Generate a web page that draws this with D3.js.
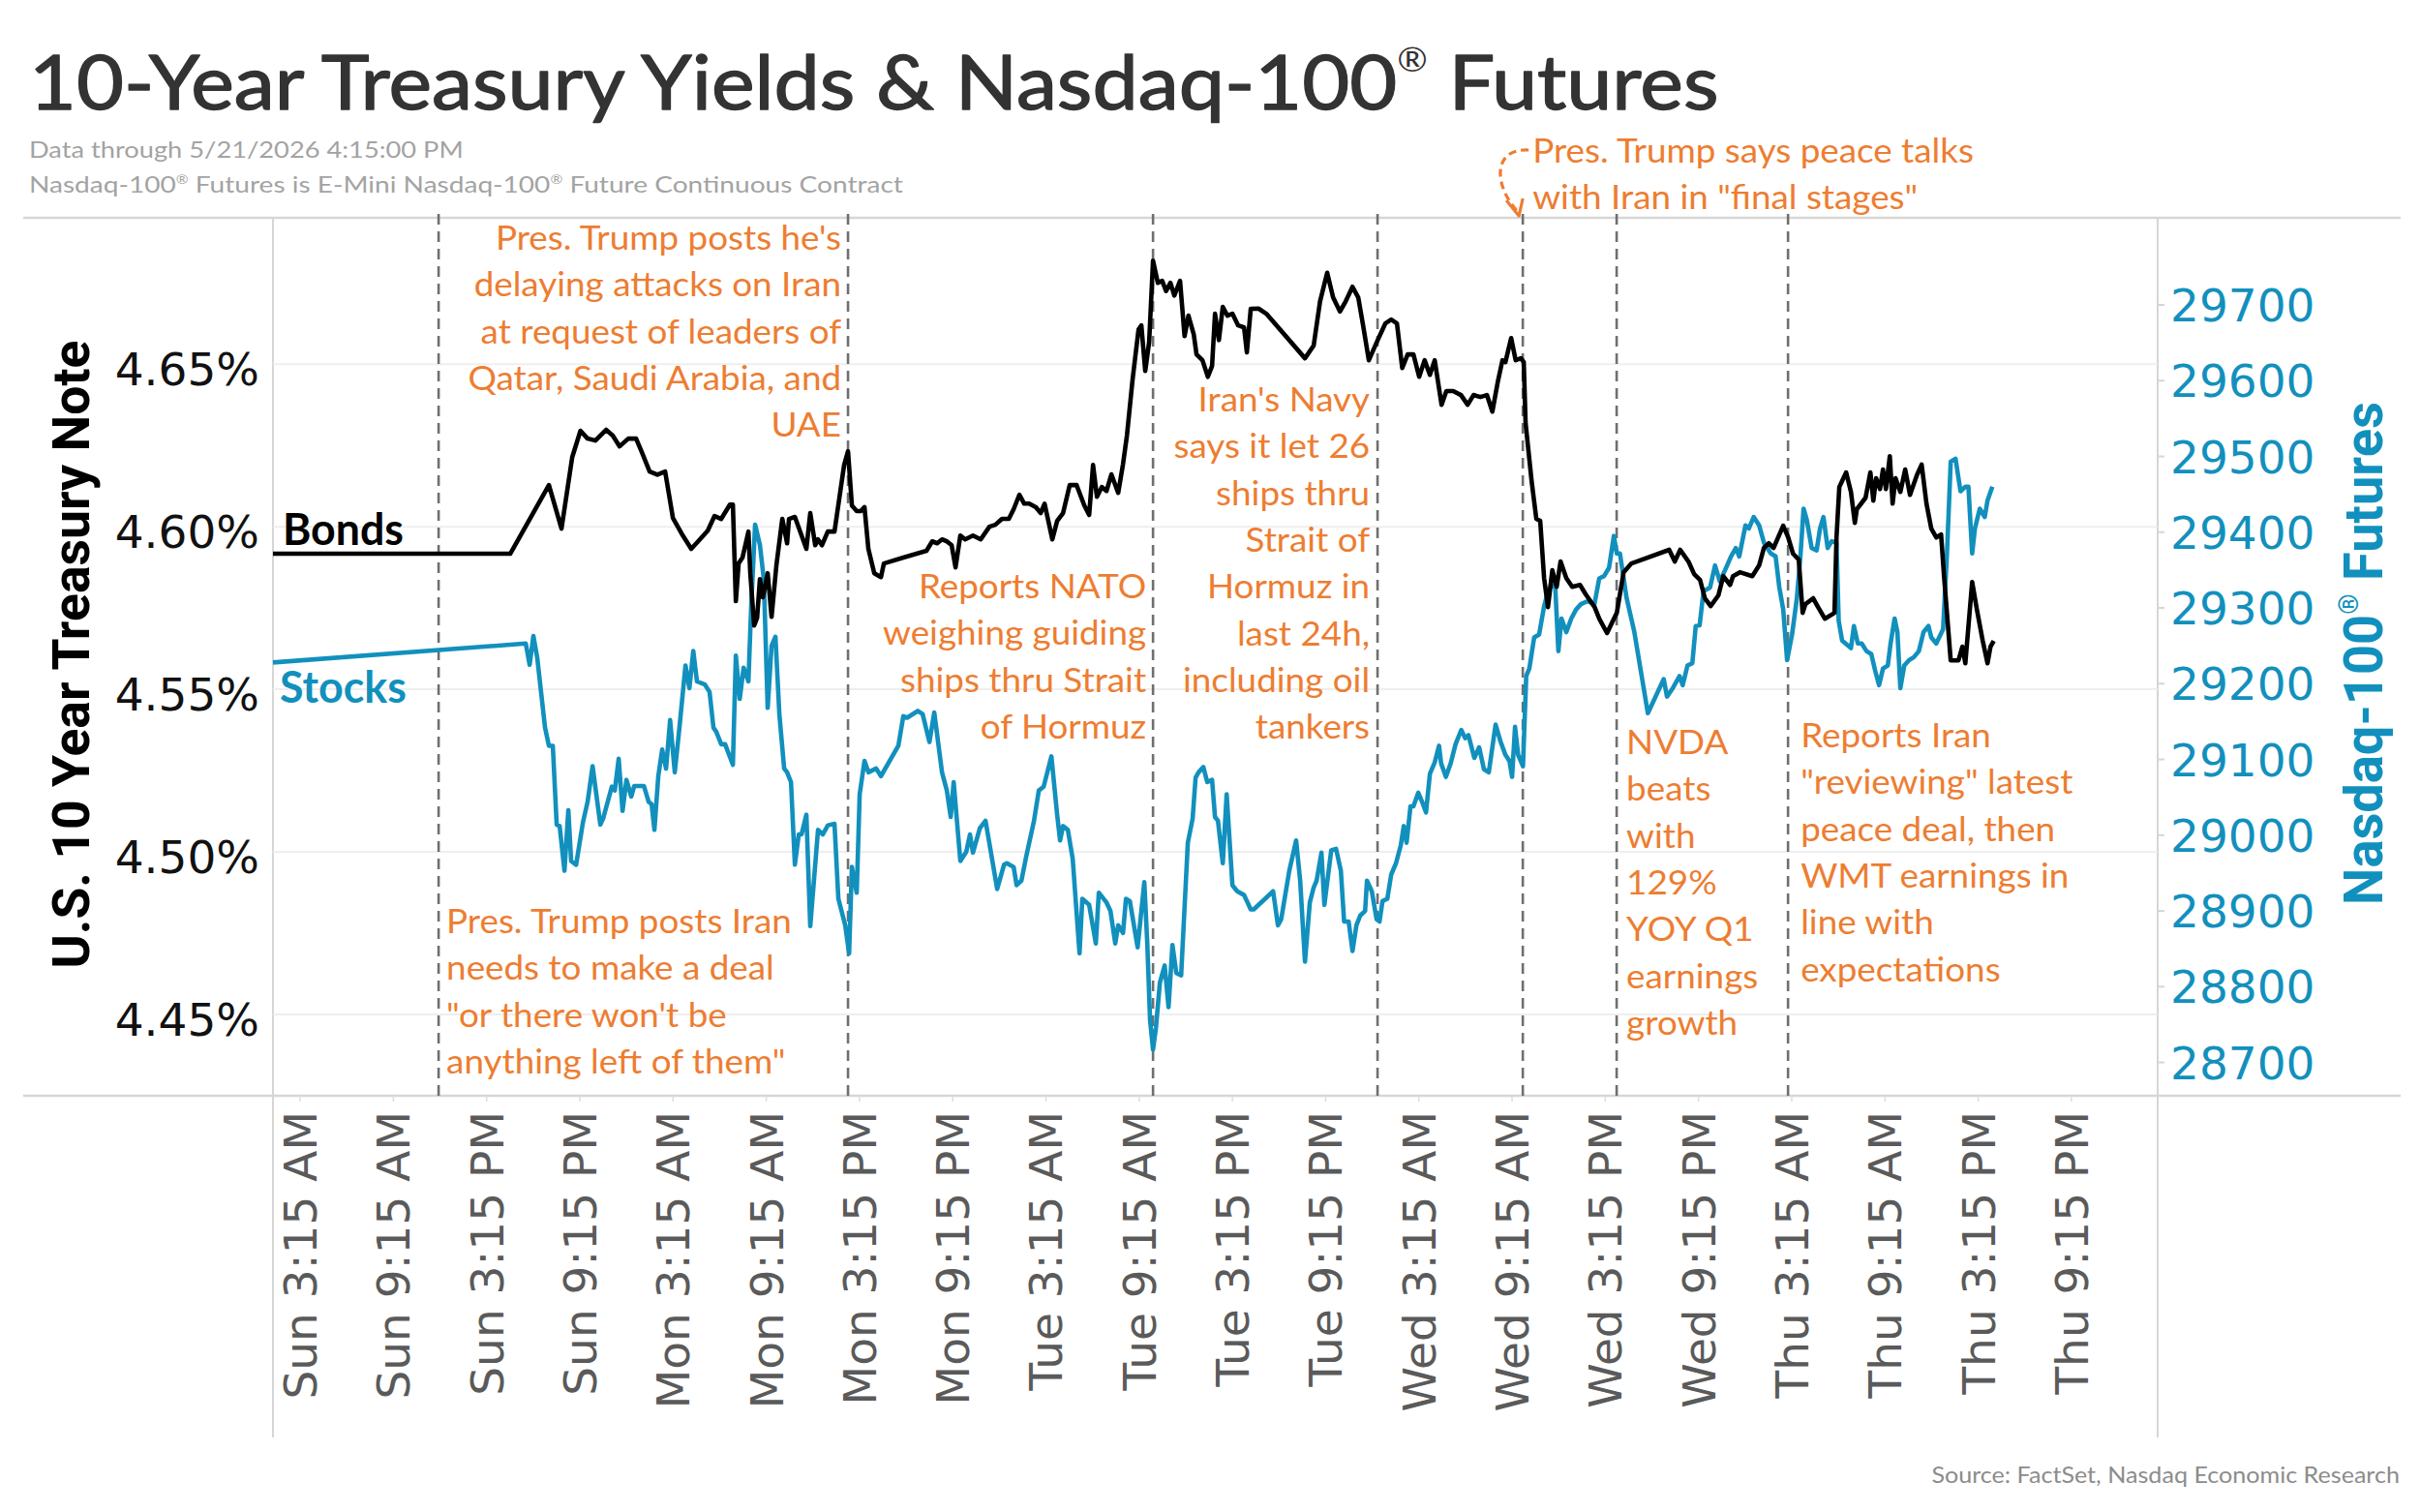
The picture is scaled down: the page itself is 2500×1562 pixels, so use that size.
<!DOCTYPE html>
<html><head><meta charset="utf-8">
<script src="https://cdn.jsdelivr.net/npm/d3@7"></script>
<style>body{margin:0;background:#fff}svg{display:block}</style>
</head><body>
<svg id="c" width="2500" height="1562"></svg>
<script>
// ---------------- DATA ----------------
// hours since Sun 12:00 AM (ET), week ending Thu 5/21/2026
const bondHours = [1.75,17.02,19.51,20.32,21.01,21.54,22.0,22.5,23.19,23.62,24.06,24.62,25.12,25.49,25.99,26.49,26.99,27.49,28.05,28.67,29.17,29.73,30.17,30.6,31.16,31.35,31.54,31.72,31.97,32.35,32.47,32.72,32.91,33.09,33.28,33.59,33.84,34.15,34.53,34.84,34.96,35.34,36.08,36.33,36.65,36.83,37.08,37.46,37.89,38.51,38.76,39.01,39.32,39.57,39.82,40.07,40.45,40.88,41.07,42.32,43.81,44.18,44.5,44.81,45.12,45.43,45.68,45.99,46.3,46.8,47.3,47.86,48.24,48.67,49.11,49.42,49.79,50.1,50.42,50.85,51.16,51.41,51.91,52.22,52.6,53.03,53.47,53.97,54.28,54.53,54.78,55.09,55.4,55.71,56.15,56.46,56.71,57.08,57.46,57.64,57.89,58.14,58.39,58.7,58.98,59.23,59.51,59.76,60.13,60.42,60.67,61.01,61.19,61.57,61.92,62.19,62.38,62.63,62.88,63.18,63.5,63.87,64.25,64.43,64.68,65.18,65.68,68.17,68.73,69.14,69.6,69.98,70.42,70.79,71.23,71.6,71.91,72.28,72.85,73.34,73.72,74.09,74.43,74.78,75.15,75.52,75.87,76.21,76.52,76.96,77.27,77.71,78.21,78.64,79.02,79.46,79.88,80.23,80.57,80.88,81.07,81.44,81.73,82.07,82.25,82.37,82.75,83.06,83.31,83.56,83.81,84.09,84.37,84.62,84.99,85.37,85.87,86.24,86.81,87.11,87.61,88.05,88.24,88.68,89.18,91.61,91.97,92.32,92.85,93.22,93.6,93.91,94.28,94.78,95.09,95.53,95.72,96.16,96.96,97.4,97.71,98.02,98.33,98.95,99.27,99.58,99.95,100.2,100.38,100.88,101.19,101.63,102.25,102.38,102.56,103.0,103.31,103.56,103.69,104.25,104.56,104.75,104.93,105.18,105.37,105.56,105.81,105.99,106.18,106.49,106.8,107.11,107.55,107.86,108.17,108.48,108.8,109.11,109.3,109.73,110.23,110.48,110.67,111.11,111.42,111.79,112.1,112.29,112.5];
const bondYield = [4.5917,4.5917,4.6128,4.5994,4.6214,4.6295,4.6271,4.6265,4.6298,4.628,4.6247,4.6271,4.6271,4.6229,4.617,4.616,4.617,4.6027,4.5979,4.5932,4.5958,4.5988,4.6033,4.6024,4.6068,4.6068,4.5771,4.5887,4.5905,4.5985,4.5857,4.5696,4.572,4.5839,4.5783,4.5857,4.5723,4.5881,4.6024,4.5949,4.6024,4.603,4.5932,4.6042,4.5943,4.5961,4.5943,4.5985,4.5985,4.619,4.6232,4.6065,4.6048,4.6048,4.606,4.5932,4.5857,4.5845,4.5887,4.5905,4.5926,4.5955,4.5949,4.5961,4.5955,4.5943,4.5875,4.5973,4.5961,4.5973,4.5961,4.6,4.6006,4.6024,4.6024,4.6054,4.6098,4.6071,4.6071,4.606,4.6042,4.6071,4.5961,4.6018,4.6042,4.6128,4.6128,4.6065,4.6036,4.619,4.6092,4.6122,4.611,4.6161,4.6104,4.6193,4.628,4.6455,4.6607,4.6619,4.6479,4.6568,4.6818,4.675,4.6756,4.6725,4.675,4.6711,4.6756,4.6586,4.6649,4.6592,4.653,4.6512,4.6461,4.6494,4.6655,4.6574,4.6676,4.6649,4.6655,4.6619,4.6613,4.6536,4.667,4.6671,4.6655,4.6518,4.6557,4.6693,4.6781,4.6705,4.6662,4.6693,4.6738,4.6705,4.6619,4.6512,4.6574,4.6625,4.6637,4.6625,4.6488,4.653,4.653,4.6461,4.6512,4.6467,4.6512,4.6375,4.6417,4.6417,4.6405,4.6375,4.6405,4.6399,4.6405,4.6354,4.6443,4.6512,4.6506,4.658,4.6512,4.6518,4.6506,4.6318,4.6143,4.6024,4.6018,4.5842,4.5753,4.5866,4.5815,4.5893,4.5842,4.5815,4.5821,4.5792,4.5753,4.5717,4.5673,4.5717,4.5735,4.586,4.5887,4.5929,4.5893,4.5929,4.5893,4.5854,4.5836,4.578,4.5756,4.5789,4.5848,4.5821,4.5848,4.586,4.5848,4.5881,4.5935,4.5949,4.5935,4.6003,4.5967,4.5917,4.5899,4.5735,4.5762,4.578,4.5753,4.5717,4.5735,4.5967,4.6122,4.6167,4.6107,4.6012,4.6054,4.6089,4.6167,4.608,4.6149,4.6116,4.6176,4.6116,4.6217,4.6071,4.6149,4.6107,4.6176,4.6098,4.6158,4.6191,4.6071,4.5994,4.5967,4.5976,4.5848,4.5589,4.5589,4.5631,4.558,4.583,4.5744,4.5649,4.558,4.5631,4.5649];
const stockHours = [1.75,18.02,18.27,18.51,18.76,19.26,19.51,19.76,20.01,20.2,20.51,20.76,20.94,21.26,21.7,22.0,22.32,22.82,23.0,23.56,23.75,24.0,24.25,24.5,24.81,25.0,25.62,25.93,26.12,26.3,26.55,26.8,27.05,27.31,27.61,27.92,28.3,28.55,28.8,29.04,29.54,29.85,30.1,30.29,30.6,30.85,31.35,31.54,31.79,32.04,32.35,32.53,32.78,33.09,33.34,33.59,33.84,34.09,34.34,34.65,34.84,35.09,35.34,35.59,35.77,36.08,36.33,36.83,37.14,37.46,37.89,38.14,38.58,38.83,39.01,39.32,39.51,39.82,40.07,40.57,40.88,42.0,42.32,42.56,43.25,43.56,44.0,44.31,44.81,45.12,45.37,45.56,45.99,46.37,46.61,46.8,47.24,47.61,48.36,48.8,48.98,49.42,49.61,49.92,50.23,50.73,51.04,51.35,51.85,52.22,52.41,52.6,52.91,53.22,53.66,53.84,54.28,54.71,54.9,55.4,55.65,55.96,56.15,56.46,56.65,56.9,57.4,57.83,58.02,58.2,58.39,58.58,58.83,59.14,59.39,59.64,59.89,60.2,60.63,60.94,61.13,61.32,61.63,61.88,62.19,62.38,62.57,62.88,63.13,63.5,63.81,64.25,64.68,64.87,66.12,66.43,66.64,67.16,67.6,67.86,68.17,68.48,68.73,68.92,69.23,69.42,69.86,70.17,70.48,70.69,70.98,71.23,71.48,71.73,72.04,72.16,72.47,72.78,72.97,73.16,73.47,73.72,74.03,74.34,74.53,74.71,74.96,75.15,75.46,75.71,75.96,76.21,76.52,76.8,76.93,77.24,77.55,77.86,78.23,78.48,78.69,79.07,79.38,79.69,80.0,80.44,80.75,81.07,81.33,81.5,81.69,81.89,82.2,82.41,82.61,82.92,83.24,83.56,83.74,84.02,84.28,84.48,84.68,84.99,85.31,85.62,85.93,86.36,86.8,87.11,87.42,87.74,88.05,88.24,88.44,88.87,89.37,90.24,90.74,91.26,91.47,91.84,92.28,92.48,92.79,93.1,93.32,93.57,93.82,94.24,94.56,94.87,95.21,95.59,95.9,96.12,96.52,96.74,97.05,97.4,97.71,98.15,98.46,98.7,98.95,99.2,99.52,99.83,100.07,100.26,100.47,100.78,101.1,101.32,101.54,101.81,102.07,102.38,102.52,102.74,103.31,103.5,103.75,104.0,104.31,104.62,104.87,105.12,105.37,105.68,105.86,106.12,106.3,106.49,106.74,107.05,107.36,107.68,107.98,108.3,108.48,108.8,109.24,109.49,109.73,110.04,110.36,110.67,110.87,111.11,111.29,111.6,111.92,112.1,112.41];
const stockPrice = [29228,29253,29225,29263,29234,29142,29118,29118,29014,29012,28953,29033,28966,28961,29017,29044,29091,29014,29022,29064,29059,29101,29032,29073,29051,29065,29065,29044,29041,29007,29078,29113,29088,29152,29083,29144,29224,29194,29243,29203,29199,29189,29142,29136,29120,29120,29093,29237,29180,29221,29203,29303,29410,29383,29338,29168,29250,29262,29160,29088,29083,29070,28961,29001,29001,29027,28880,29007,29001,29013,29015,28916,28881,28844,28958,28924,29054,29098,29083,29088,29078,29118,29157,29155,29164,29160,29123,29162,29083,29059,29024,29070,28966,28978,29001,28977,29009,29019,28929,28961,28963,28958,28934,28940,28972,29019,29059,29064,29104,29027,28993,29012,29007,28969,28844,28916,28908,28857,28924,28911,28900,28857,28881,28871,28916,28913,28852,28938,28857,28756,28717,28746,28805,28828,28773,28855,28818,28815,28990,29022,29076,29083,29090,29070,29073,29024,29019,28963,29054,28934,28926,28921,28902,28902,28926,28881,28889,28953,28993,28940,28833,28911,28931,28940,28977,28908,28980,28982,28953,28886,28886,28847,28881,28894,28900,28940,28926,28889,28886,28913,28916,28948,28963,28987,29012,28990,29038,29038,29056,29044,29030,29081,29096,29118,29095,29077,29095,29120,29139,29128,29132,29102,29116,29087,29083,29146,29124,29106,29098,29077,29143,29106,29091,29210,29220,29261,29265,29302,29316,29331,29327,29243,29286,29268,29286,29298,29305,29309,29305,29339,29342,29353,29395,29372,29372,29313,29268,29161,29183,29206,29183,29194,29210,29198,29224,29227,29276,29277,29322,29327,29356,29335,29350,29368,29379,29368,29409,29405,29420,29409,29386,29372,29368,29327,29298,29231,29265,29313,29372,29431,29416,29379,29376,29405,29420,29379,29388,29386,29283,29257,29247,29276,29253,29253,29243,29239,29217,29198,29220,29224,29253,29286,29268,29194,29224,29231,29235,29243,29268,29276,29261,29253,29272,29372,29493,29497,29454,29460,29460,29372,29405,29431,29420,29442,29460];
const tickLabels = ["Sun 3:15 AM","Sun 9:15 AM","Sun 3:15 PM","Sun 9:15 PM","Mon 3:15 AM","Mon 9:15 AM","Mon 3:15 PM","Mon 9:15 PM","Tue 3:15 AM","Tue 9:15 AM","Tue 3:15 PM","Tue 9:15 PM","Wed 3:15 AM","Wed 9:15 AM","Wed 3:15 PM","Wed 9:15 PM","Thu 3:15 AM","Thu 9:15 AM","Thu 3:15 PM","Thu 9:15 PM"];
const tickHours = [3.25,9.25,15.25,21.25,27.25,33.25,39.25,45.25,51.25,57.25,63.25,69.25,75.25,81.25,87.25,93.25,99.25,105.25,111.25,117.25];
const yieldTicks = [4.45,4.50,4.55,4.60,4.65];
const stockTicks = [28700,28800,28900,29000,29100,29200,29300,29400,29500,29600,29700];
const eventHours = [12.41,38.76,58.39,72.84,82.19,88.23,99.26];
const annoLines = [
  ["Pres. Trump posts Iran","needs to make a deal","\"or there won't be","anything left of them\""],
  ["Pres. Trump posts he's","delaying attacks on Iran","at request of leaders of","Qatar, Saudi Arabia, and","UAE"],
  ["Reports NATO","weighing guiding","ships thru Strait","of Hormuz"],
  ["Iran's Navy","says it let 26","ships thru","Strait of","Hormuz in","last 24h,","including oil","tankers"],
  ["Pres. Trump says peace talks","with Iran in \"final stages\""],
  ["NVDA","beats","with","129%","YOY Q1","earnings","growth"],
  ["Reports Iran","\"reviewing\" latest","peace deal, then","WMT earnings in","line with","expectations"]
];
const titleText = "10-Year Treasury Yields & Nasdaq-100® Futures";
const subtitle1 = "Data through 5/21/2026 4:15:00 PM";
const subtitle2 = "Nasdaq-100® Futures is E-Mini Nasdaq-100® Future Continuous Contract";
const sourceText = "Source: FactSet, Nasdaq Economic Research";
const leftTitle = "U.S. 10 Year Treasury Note";
const rightTitle = "Nasdaq-100® Futures";

// ---------------- DRAW ----------------
const svg = d3.select('#c');
const PL=282, PR=2229, PT=225, PB=1132;
const ORANGE='#ED7D31', TEAL='#1290BD';
const x = d3.scaleLinear().domain([1.75,123.05]).range([PL,PR]);
const yL = d3.scaleLinear().domain([4.425,4.695]).range([PB,PT]);
const yR = d3.scaleLinear().domain([28656,29815]).range([PB,PT]);

function addText(o){
  const g = svg.append('g').attr('transform',`translate(${o.x},${o.y})`+(o.rotate?` rotate(${o.rotate})`:''));
  const t = g.append('text').attr('font-family',o.family).attr('font-size',o.size)
    .attr('font-weight',o.weight||400).attr('fill',o.fill).attr('text-anchor',o.anchor||'start');
  if(o.stroke){ t.attr('stroke',o.fill).attr('stroke-width',o.stroke).attr('stroke-linejoin','round'); }
  const sc=o.supScale||0.5, rs=o.supRaise||0.5;
  o.text.split('®').forEach((p,i)=>{
    if(i>0){
      t.append('tspan').attr('font-size',(sc*100)+'%').attr('dy',(-rs/sc)+'em').attr('stroke-width',0).text('®');
      t.append('tspan').attr('dy',rs+'em').text(p);
    } else t.append('tspan').text(p);
  });
  if(o.target){ const w=t.node().getComputedTextLength(); t.attr('transform',`scale(${o.target/w},1)`); }
  else if(o.sx){ t.attr('transform',`scale(${o.sx},1)`); }
  return t;
}
function measure(str,size,family,weight){
  const t=svg.append('text').attr('font-family',family).attr('font-size',size).attr('font-weight',weight||400).text(str);
  const w=t.node().getComputedTextLength(); t.remove(); return w;
}

// frame
svg.append('line').attr('x1',24).attr('x2',2480).attr('y1',PT).attr('y2',PT).attr('stroke','#d6d6d6').attr('stroke-width',2.5);
svg.append('line').attr('x1',24).attr('x2',2480).attr('y1',PB).attr('y2',PB).attr('stroke','#d6d6d6').attr('stroke-width',2.5);
[PL,PR].forEach(xx=>svg.append('line').attr('x1',xx).attr('x2',xx).attr('y1',PT).attr('y2',1485).attr('stroke','#d6d6d6').attr('stroke-width',2));

// gridlines
svg.append('g').selectAll('line').data(yieldTicks).join('line')
  .attr('x1',PL).attr('x2',PR).attr('y1',d=>yL(d)).attr('y2',d=>yL(d)).attr('stroke','#eeeeee').attr('stroke-width',2);

// left axis labels
svg.append('g').selectAll('text').data(yieldTicks).join('text')
  .attr('x',268).attr('y',d=>yL(d)+22).attr('text-anchor','end')
  .attr('font-family','DejaVu Sans').attr('font-size',47).attr('fill','#111')
  .text(d=>d3.format('.2f')(d)+'%');
// right axis ticks + labels
svg.append('g').selectAll('line').data(stockTicks).join('line')
  .attr('x1',PR).attr('x2',PR+7).attr('y1',d=>yR(d)).attr('y2',d=>yR(d)).attr('stroke','#d6d6d6').attr('stroke-width',2);
svg.append('g').selectAll('text').data(stockTicks).join('text')
  .attr('x',2242).attr('y',d=>yR(d)+17).attr('text-anchor','start')
  .attr('font-family','DejaVu Sans').attr('font-size',47).attr('fill',TEAL)
  .text(d=>d);

// x axis ticks + labels
svg.append('g').selectAll('line').data(tickHours).join('line')
  .attr('x1',d=>x(d)+4).attr('x2',d=>x(d)+4).attr('y1',PB).attr('y2',PB+6).attr('stroke','#dddddd').attr('stroke-width',1.5);
svg.append('g').selectAll('text').data(tickHours).join('text')
  .attr('transform',d=>`translate(${x(d)+4},1148) rotate(-90)`)
  .attr('dy','0.36em').attr('text-anchor','end')
  .attr('font-family','DejaVu Sans').attr('font-size',47).attr('fill','#5a5a5a')
  .text((d,i)=>tickLabels[i]);

// event lines
svg.append('g').selectAll('line').data(eventHours).join('line')
  .attr('x1',d=>x(d)).attr('x2',d=>x(d)).attr('y1',PT-4).attr('y2',PB)
  .attr('stroke','#6f6f6f').attr('stroke-width',2.6).attr('stroke-dasharray','11,7');

// series lines
const bondData = bondHours.map((h,i)=>[h,bondYield[i]]);
const stockData = stockHours.map((h,i)=>[h,stockPrice[i]]);
svg.append('path').datum(stockData)
  .attr('d',d3.line().x(d=>x(d[0])).y(d=>yR(d[1])))
  .attr('fill','none').attr('stroke',TEAL).attr('stroke-width',4.6).attr('stroke-linejoin','round');
svg.append('path').datum(bondData)
  .attr('d',d3.line().x(d=>x(d[0])).y(d=>yL(d[1])))
  .attr('fill','none').attr('stroke','#000').attr('stroke-width',4.6).attr('stroke-linejoin','round');

// series labels
addText({x:292,y:563,text:'Bonds',size:46,family:'Lato',weight:700,fill:'#000',target:125});
addText({x:289,y:726,text:'Stocks',size:46,family:'Lato',weight:700,fill:TEAL,target:131});

// titles
addText({x:30,y:113,text:titleText,size:78,family:'Lato',fill:'#333',target:1746,supScale:0.45,supRaise:0.5,stroke:1.3});
addText({x:30,y:163,text:subtitle1,size:23,family:'Lato',fill:'#a3a3a3',target:449});
addText({x:30,y:199,text:subtitle2,size:23,family:'Lato',fill:'#a3a3a3',target:903,supScale:0.55,supRaise:0.4});
addText({x:2479,y:1532,text:sourceText,size:24,family:'Lato',fill:'#8c8c8c',anchor:'end',target:484});
addText({x:92,y:676,text:leftTitle,size:53,family:'Roboto',weight:700,fill:'#000',anchor:'middle',rotate:-90,target:649});
addText({x:2461,y:675,text:rightTitle,size:56,family:'Roboto',weight:700,fill:TEAL,anchor:'middle',rotate:-90,target:520,supScale:0.5,supRaise:0.45});

// annotations
const AFS = 35, LH = 48.3;
const asx = 456 / measure(annoLines[4][0],AFS,'Lato',400);
const annoLayout = [
  {ev:0,side:'start',dx:8,y0:964},
  {ev:1,side:'end',dx:-7,y0:258},
  {ev:2,side:'end',dx:-7,y0:618},
  {ev:3,side:'end',dx:-8,y0:425},
  {ev:4,side:'start',dx:10,y0:168},
  {ev:5,side:'start',dx:10,y0:779},
  {ev:6,side:'start',dx:13,y0:772}
];
annoLines.forEach((lines,k)=>{
  const L=annoLayout[k];
  lines.forEach((s,j)=>addText({x:x(eventHours[L.ev])+L.dx,y:L.y0+j*LH,text:s,size:AFS,family:'Lato',fill:ORANGE,anchor:L.side,sx:asx}));
});
// arrow for peace-talks note
const ax = x(eventHours[4]);
svg.append('path').attr('d',`M${ax+6},155 C${ax-32},153 ${ax-30},192 ${ax-5},219`)
  .attr('fill','none').attr('stroke',ORANGE).attr('stroke-width',3.2).attr('stroke-dasharray','8,5');
svg.append('path').attr('d',`M${ax-17},207 L${ax-4},223 L${ax},205`)
  .attr('fill','none').attr('stroke',ORANGE).attr('stroke-width',3.2).attr('stroke-linejoin','round');
</script>
</body></html>
